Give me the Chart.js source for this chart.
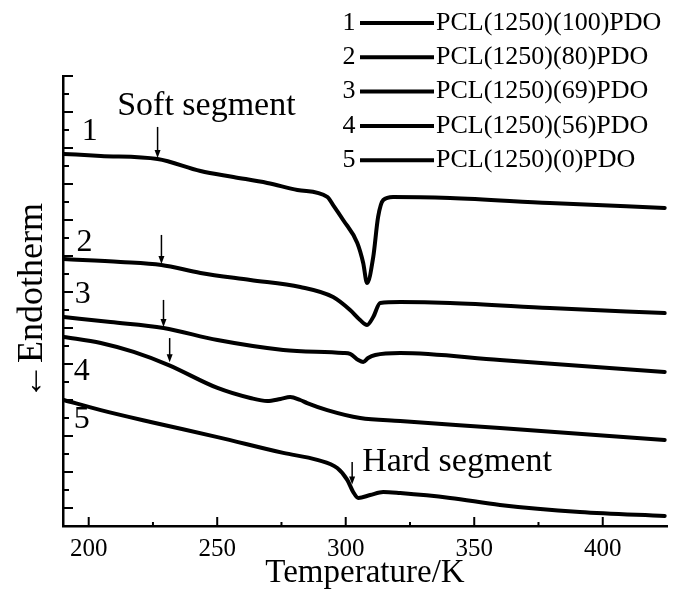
<!DOCTYPE html>
<html>
<head>
<meta charset="utf-8">
<script src="https://cdn.jsdelivr.net/npm/chart.js@4.4.1/dist/chart.umd.min.js"></script>
<style>
  html, body { margin: 0; padding: 0; background: #fff; }
  #wrap { width: 680px; height: 596px; }
</style>
</head>
<body>
<div id="wrap"><canvas id="dscChart" width="680" height="596"></canvas></div>
<script>
// DSC heating curves, heat flow in arbitrary units (curves are offset)
const SERIF = "'Liberation Serif', 'Times New Roman', serif";

const seriesIds = ["1", "2", "3", "4", "5"];
const seriesNames = [
  "PCL(1250)(100)PDO",
  "PCL(1250)(80)PDO",
  "PCL(1250)(69)PDO",
  "PCL(1250)(56)PDO",
  "PCL(1250)(0)PDO",
];

const temp1 = [190.3, 204.7, 226.8, 243.5, 256.3, 269.5, 281.2, 292.8, 295.1, 299.0, 304.5, 306.8, 308.3, 310.7, 312.6, 314.6, 318.4, 340.6, 379.4, 424.1];
const flow1 = [20.67, 20.56, 20.39, 19.72, 19.39, 19.06, 18.67, 18.28, 17.83, 17.0, 15.72, 14.61, 13.5, 14.94, 17.17, 18.11, 18.28, 18.22, 17.94, 17.67];

const temp2 = [190.3, 212.4, 228.3, 243.5, 262.9, 282.3, 295.1, 301.7, 305.6, 308.3, 310.7, 313.4, 321.2, 340.6, 379.4, 424.1];
const flow2 = [14.83, 14.67, 14.50, 14.06, 13.67, 13.28, 12.72, 12.00, 11.44, 11.17, 11.61, 12.39, 12.44, 12.39, 12.11, 11.83];

const temp3 = [190.3, 208.5, 229.1, 250.1, 275.7, 299.0, 301.7, 304.9, 306.8, 308.7, 311.5, 321.2, 360.0, 424.1];
const flow3 = [11.61, 11.33, 11.00, 10.33, 9.78, 9.61, 9.56, 9.22, 9.11, 9.33, 9.50, 9.61, 9.22, 8.56];

const temp4 = [190.3, 204.7, 217.5, 231.1, 250.1, 262.9, 269.5, 274.6, 278.4, 282.3, 285.0, 292.8, 305.6, 321.2, 360.0, 424.1];
const flow4 = [10.50, 10.17, 9.67, 8.94, 7.67, 7.11, 6.94, 7.06, 7.17, 7.00, 6.83, 6.44, 6.00, 5.83, 5.44, 4.78];

const temp5 = [190.3, 204.7, 224.1, 250.1, 275.7, 288.9, 296.7, 300.6, 302.9, 304.9, 309.5, 314.6, 321.2, 340.6, 360.0, 391.1, 424.1];
const flow5 = [7.00, 6.44, 5.78, 4.94, 4.06, 3.67, 3.22, 2.56, 1.89, 1.56, 1.72, 1.89, 1.83, 1.56, 1.17, 0.78, 0.56];

const xMajorTicks = [200, 250, 300, 350, 400];
const xMinorTicks = [225, 275, 325, 375];
const yTicks = [0, 1, 2, 3, 4, 5, 6, 7, 8, 9, 10, 11, 12, 13, 14, 15, 16, 17, 18, 19, 20, 21, 22, 23, 24, 25];

// arrows marking the glass transitions (x = temperature, from/to = heat flow)
const softArrows = [
  { t: 226.8, from: 22.17, to: 20.44 },
  { t: 228.3, from: 16.17, to: 14.55 },
  { t: 229.1, from: 12.56, to: 11.05 },
  { t: 231.5, from: 10.44, to: 9.1 },
];
const hardArrow = { t: 302.5, from: 3.56, to: 2.3 };

const curveLabels = [
  { text: "1", t: 200.4, v: 21.89 },
  { text: "2", t: 198.4, v: 15.72 },
  { text: "3", t: 197.7, v: 12.83 },
  { text: "4", t: 197.3, v: 8.56 },
  { text: "5", t: 197.3, v: 5.89 },
];
const notes = [
  { text: "Soft segment", t: 245.8, v: 23.33 },
  { text: "Hard segment", t: 343.3, v: 3.56 },
];

const temps = [temp1, temp2, temp3, temp4, temp5];
const flows = [flow1, flow2, flow3, flow4, flow5];

function arrow(ctx, x, y1, y2) {
  ctx.beginPath();
  ctx.moveTo(x, y1);
  ctx.lineTo(x, y2 - 6);
  ctx.stroke();
  ctx.beginPath();
  ctx.moveTo(x - 3, y2 - 8);
  ctx.lineTo(x + 3, y2 - 8);
  ctx.lineTo(x, y2);
  ctx.closePath();
  ctx.fill();
}

const decorations = {
  id: "decorations",
  afterDraw(chart) {
    const ctx = chart.ctx;
    const x = chart.scales.x;
    const y = chart.scales.y;
    const area = chart.chartArea;
    ctx.save();
    ctx.strokeStyle = "#000";
    ctx.fillStyle = "#000";

    // inward tick marks
    ctx.lineWidth = 2;
    xMajorTicks.forEach((v) => {
      const px = x.getPixelForValue(v);
      ctx.beginPath(); ctx.moveTo(px, area.bottom); ctx.lineTo(px, area.bottom - 9); ctx.stroke();
    });
    xMinorTicks.forEach((v) => {
      const px = x.getPixelForValue(v);
      ctx.beginPath(); ctx.moveTo(px, area.bottom); ctx.lineTo(px, area.bottom - 4); ctx.stroke();
    });
    yTicks.forEach((v) => {
      const py = y.getPixelForValue(v);
      const len = v % 2 === 1 ? 10 : 6;
      ctx.beginPath(); ctx.moveTo(area.left, py); ctx.lineTo(area.left + len, py); ctx.stroke();
    });

    // arrows
    ctx.lineWidth = 1.5;
    softArrows.concat([hardArrow]).forEach((a) => {
      arrow(ctx, x.getPixelForValue(a.t), y.getPixelForValue(a.from), y.getPixelForValue(a.to));
    });

    // texts in the plot
    ctx.textBaseline = "middle";
    ctx.textAlign = "center";
    ctx.font = "32px " + SERIF;
    curveLabels.forEach((l) => ctx.fillText(l.text, x.getPixelForValue(l.t), y.getPixelForValue(l.v)));
    ctx.font = "34px " + SERIF;
    notes.forEach((n) => ctx.fillText(n.text, x.getPixelForValue(n.t), y.getPixelForValue(n.v)));

    // legend block, top right
    ctx.font = "26px " + SERIF;
    seriesNames.forEach((name, i) => {
      const ry = 23 + i * 34.3;
      ctx.textAlign = "center";
      ctx.fillText(seriesIds[i], 349, ry);
      ctx.lineWidth = 4;
      ctx.beginPath(); ctx.moveTo(360, ry); ctx.lineTo(434, ry); ctx.stroke();
      ctx.textAlign = "left";
      ctx.fillText(name, 436, ry);
    });
    ctx.restore();
  },
};

new Chart(document.getElementById("dscChart"), {
  type: "line",
  data: {
    datasets: temps.map((t, i) => ({
      label: seriesNames[i],
      data: t.map((tv, j) => ({ x: tv, y: flows[i][j] })),
      borderColor: "#000",
      borderWidth: 4,
      borderCapStyle: "round",
      borderJoinStyle: "round",
      pointRadius: 0,
      cubicInterpolationMode: "monotone",
      fill: false,
    })),
  },
  options: {
    responsive: false,
    animation: false,
    layout: { padding: { top: 76, right: 13, left: 0, bottom: 0 } },
    plugins: { legend: { display: false }, tooltip: { enabled: false } },
    scales: {
      x: {
        type: "linear",
        min: 190,
        max: 425,
        afterBuildTicks: (s) => { s.ticks = xMajorTicks.map((v) => ({ value: v })); },
        afterFit: (s) => { s.height = 70; },
        grid: { display: false, drawTicks: false },
        border: { color: "#000", width: 2.5 },
        ticks: { color: "#000", padding: 8, maxRotation: 0, font: { family: SERIF, size: 25 } },
        title: { display: true, text: "Temperature/K", color: "#000", padding: { top: 0, bottom: 3 }, font: { family: SERIF, size: 33 } },
      },
      y: {
        type: "linear",
        min: 0,
        max: 25,
        afterFit: (s) => { s.width = 63; },
        grid: { display: false, drawTicks: false },
        border: { color: "#000", width: 2.5 },
        ticks: { display: false },
        title: { display: true, text: "←Endotherm", color: "#000", padding: { top: 11, bottom: 0 }, font: { family: SERIF, size: 36 } },
      },
    },
  },
  plugins: [decorations],
});
</script>
</body>
</html>
